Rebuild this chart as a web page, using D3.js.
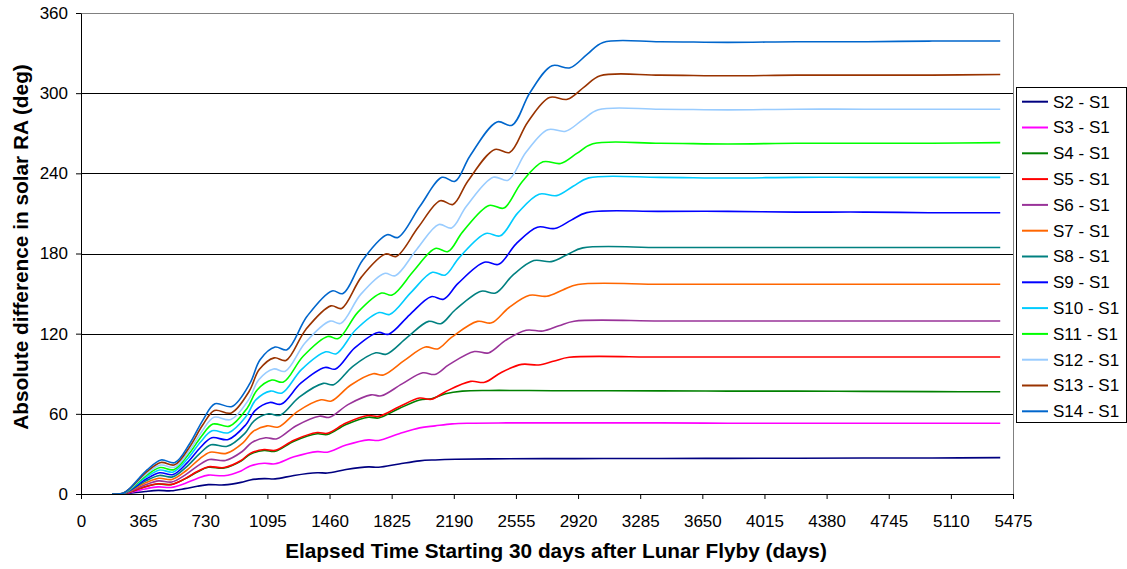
<!DOCTYPE html>
<html>
<head>
<meta charset="utf-8">
<script src="https://cdn.jsdelivr.net/npm/d3@7"></script>
<style>
  body { margin: 0; background: #fff; }
  text { font-family: Arial, "Liberation Sans", sans-serif; }
</style>
</head>
<body>
<script>
// tick labels
var xTicks = [0, 365, 730, 1095, 1460, 1825, 2190, 2555, 2920, 3285, 3650, 4015, 4380, 4745, 5110, 5475];
var yTicks = [0, 60, 120, 180, 240, 300, 360];

// series names (legend order)
var names = ["S2 - S1", "S3 - S1", "S4 - S1", "S5 - S1", "S6 - S1", "S7 - S1", "S8 - S1",
             "S9 - S1", "S10 - S1", "S11 - S1", "S12 - S1", "S13 - S1", "S14 - S1"];
var colors = ["#000080", "#ff00ff", "#008000", "#ff0000", "#993399", "#ff6600", "#008080",
              "#0000ff", "#00ccff", "#00ff00", "#99ccff", "#993300", "#0066cc"];

// elapsed days / values, one pair of arrays per series
var d2 = [182,246,284,377,453,529,611,683,748,841,940,994,1076,1141,1251,1388,1447,1557,1688,1748,1869,1989,2080,2200,2400,2900,3400,3800,4200,4600,5000,5400];
var v2 = [0,0.05,0.5,1.9,2.7,2.4,4,5.8,7,6.8,8.7,10.5,11.5,11.3,13.9,15.9,15.7,18.3,20.3,20,22.5,24.8,25.5,26,26.3,26.5,26.6,26.7,26.8,26.9,27,27.2];

var d3_ = [182,246,284,377,453,529,611,683,748,841,940,994,1076,1141,1251,1388,1447,1557,1688,1748,1869,1989,2080,2180,2280,2500,2900,3400,3800,4200,4600,5000,5400];
var v3 = [0,0.1,1,3.8,5.3,4.9,7.9,11.6,14.1,13.7,17.3,21,23,22.6,27.8,31.7,31.3,36.6,40.5,40.1,45.1,49.5,51,52.5,53,53.2,53.2,53.2,53,53,53,53,53];

var d4 = [182,246,284,377,453,529,611,683,748,841,940,994,1076,1141,1251,1388,1447,1557,1688,1748,1869,1989,2059,2141,2240,2400,2800,3400,3800,4200,4600,5000,5400];
var v4 = [0,0.15,1.4,5.4,7.5,7,11.3,16.5,20,19.4,24.6,29.8,32.6,32,39.5,45.1,44.5,52,57.5,56.9,64,70.4,71.3,75,77,77.5,77.3,77.2,77,77,76.8,76.6,76.5];

var d5 = [182,246,284,377,453,529,611,683,748,841,940,994,1076,1141,1251,1388,1447,1557,1688,1748,1869,1989,2059,2141,2289,2371,2469,2589,2688,2781,2868,3400,3800,4200,4600,5000,5400];
var v5 = [0,0.15,1.4,5.5,7.7,7.1,11.5,16.8,20.4,19.8,25.1,30.4,33.3,32.7,40.3,46,45.4,53.1,58.7,58.1,65.3,71.8,70.9,76.6,84.3,83.6,91,97,96.6,99.6,102.3,102.5,102.5,102.5,102.5,102.5,102.5];

var d6 = [182,246,285,379,456,533,615,688,754,848,947,1003,1085,1151,1262,1400,1460,1571,1704,1764,1886,2008,2079,2162,2311,2394,2494,2615,2714,2808,2897,3400,3800,4200,4600,5000,5400];
var v6 = [0,0.2,1.7,6.9,9.8,9,14.5,21.2,25.8,25.1,31.8,38.5,42.1,41.3,50.9,58.2,57.4,67.1,74.2,73.5,82.4,90.7,89.5,96.8,106.6,105.6,115,122.6,122,125.9,129.3,129.5,129.5,129.5,129.5,129.5,129.5];

var d7 = [182,246,285,380,457,535,619,692,758,853,953,1009,1093,1159,1271,1410,1471,1583,1716,1777,1900,2023,2095,2178,2329,2412,2513,2635,2736,2830,2919,3400,3800,4200,4600,5000,5400];
var v7 = [0,0.2,2.1,8.4,11.8,10.9,17.6,25.8,31.3,30.4,38.5,46.6,51,50.1,61.7,70.5,69.6,81.4,90,89.1,100,110,108.6,117.4,129.2,128.1,139.4,148.7,148,152.7,156.8,157,157,157,157,157,157];

var d8 = [182,246,286,381,460,538,623,697,764,859,961,1017,1102,1169,1282,1423,1484,1597,1732,1793,1918,2042,2114,2199,2351,2435,2537,2660,2762,2858,2948,3400,3800,4200,4600,5000,5400];
var v8 = [0,0.3,2.5,9.8,13.9,12.8,20.7,30.2,36.8,35.7,45.2,54.8,60,58.9,72.5,82.8,81.8,95.6,105.7,104.6,117.4,129.2,127.5,137.9,151.8,150.4,163.8,174.7,173.9,179.3,184.2,184.5,184.5,184.5,184.5,184.5,184.5];

var d9 = [182,246,286,383,462,541,626,700,768,865,967,1024,1109,1177,1291,1433,1495,1608,1745,1807,1932,2057,2130,2215,2369,2454,2556,2681,2783,2880,2971,3400,3800,4200,4600,5000,5400];
var v9 = [0,0.3,2.8,11.2,15.9,14.6,23.7,34.6,42.1,40.8,51.7,62.6,68.5,67.3,82.9,94.7,93.5,109.3,120.9,119.6,134.3,147.7,145.8,157.6,173.5,171.9,187.2,199.7,198.7,205,210.6,211.5,211.5,211,211,210.5,210.5];

var d10 = [182,246,286,383,463,542,628,702,770,867,970,1027,1113,1181,1295,1438,1500,1614,1751,1813,1939,2064,2138,2223,2378,2463,2566,2691,2794,2891,2982,3400,3800,4200,4600,5000,5400];
var v10 = [0,0.35,3.2,12.6,17.9,16.5,26.6,38.9,47.3,45.9,58.1,70.4,77,75.6,93.1,106.4,105,122.9,135.8,134.4,150.9,165.9,163.8,177.1,195,193.2,210.4,224.4,223.3,230.3,236.6,237,236.5,237,237,237,237];

var d11 = [182,247,287,385,465,545,631,707,775,873,977,1035,1121,1189,1305,1449,1511,1627,1765,1828,1955,2081,2156,2242,2397,2484,2587,2714,2817,2915,3007,3400,3800,4200,4600,5000,5400];
var v11 = [0,0.4,3.5,14,19.8,18.2,29.5,43,52.3,50.8,64.4,77.9,85.3,83.8,103.1,117.9,116.3,136.1,150.4,148.9,167.1,183.8,181.5,196.2,216,214,233,248.6,247.4,255.1,262.1,262.5,262,262.5,262.5,262.5,263];

var d12 = [182,247,287,386,468,549,636,712,781,880,985,1044,1131,1200,1317,1463,1526,1643,1782,1846,1974,2102,2177,2264,2422,2509,2614,2742,2847,2946,3039,3400,3800,4200,4600,5000,5400];
var v12 = [0,0.4,3.8,15.3,21.7,20,32.3,47.2,57.4,55.7,70.6,85.5,93.6,91.9,113.2,129.4,127.7,149.4,165.1,163.4,183.4,201.7,199.1,215.3,237,234.9,255.7,272.7,271.5,280,287.6,288,287.5,288,288,288,288];

var d13 = [182,247,288,387,469,550,638,714,784,883,988,1047,1135,1204,1321,1468,1531,1648,1789,1852,1981,2110,2185,2273,2431,2518,2624,2752,2857,2957,3050,3400,3800,4200,4600,5000,5400];
var v13 = [0,0.5,4.2,16.7,23.6,21.8,35.2,51.4,62.5,60.7,76.9,93.1,101.9,100,123.2,140.8,138.9,162.5,179.6,177.8,199.6,219.5,216.7,234.3,257.9,255.6,278.3,296.8,295.4,304.7,313,313.5,313,313.5,313.5,313.5,314];

var d14 = [182,247,288,388,470,552,640,717,787,887,993,1052,1140,1210,1328,1475,1539,1657,1798,1862,1992,2121,2197,2285,2444,2532,2638,2767,2873,2973,3067,3400,3800,4200,4600,5000,5400];
var v14 = [0,0.5,4.5,18,25.5,23.5,38,55.5,67.5,65.5,83,100.5,110,108,133,152,150,175.5,194,192,215.5,237,234,253,278.5,276,300.5,320.5,319,329,338,338.5,338,338.5,338.5,339,339];

var allDays = [d2, d3_, d4, d5, d6, d7, d8, d9, d10, d11, d12, d13, d14];
var allVals = [v2, v3, v4, v5, v6, v7, v8, v9, v10, v11, v12, v13, v14];

var series = names.map(function(n, i) {
  return { name: n, color: colors[i], points: d3.zip(allDays[i], allVals[i]) };
});

/*
 * layout
 */
var width = 1127, height = 569;
var plot = { left: 81, right: 1013, top: 13, bottom: 494 };

var x = d3.scaleLinear().domain([0, 5475]).range([plot.left, plot.right]);
var y = d3.scaleLinear().domain([0, 360]).range([plot.bottom, plot.top]);

var svg = d3.select('body').append('svg')
  .attr('width', width)
  .attr('height', height);

svg.append('rect')
  .attr('width', width)
  .attr('height', height)
  .style('fill', '#fff');

// horizontal gridlines
svg.append('g').selectAll('line')
  .data(yTicks.filter(function(v) { return v > 0 && v < 360; }))
  .enter().append('line')
  .attr('x1', plot.left).attr('x2', plot.right)
  .attr('y1', function(d) { return Math.round(y(d)) + 0.5; })
  .attr('y2', function(d) { return Math.round(y(d)) + 0.5; })
  .style('stroke', '#000')
  .style('stroke-width', 1);

// plot area border (top + right)
svg.append('path')
  .attr('d', 'M' + plot.left + ',' + (plot.top + 0.5) + 'H' + (plot.right + 0.5) + 'V' + plot.bottom)
  .style('fill', 'none')
  .style('stroke', '#808080')
  .style('stroke-width', 1);

// series
var line = d3.line()
  .x(function(d) { return x(d[0]); })
  .y(function(d) { return y(d[1]); })
  .curve(d3.curveCatmullRom.alpha(0.5));

svg.append('g').selectAll('path')
  .data(series)
  .enter().append('path')
  .attr('d', function(d) { return line(d.points); })
  .style('fill', 'none')
  .style('stroke', function(d) { return d.color; })
  .style('stroke-width', 1.6);

// axes
var yAxis = svg.append('g')
  .attr('transform', 'translate(' + plot.left + ',0)')
  .call(d3.axisLeft(y).tickValues(yTicks).tickSize(5).tickSizeOuter(0).tickPadding(8));

var xAxis = svg.append('g')
  .attr('transform', 'translate(0,' + plot.bottom + ')')
  .call(d3.axisBottom(x).tickValues(xTicks).tickFormat(d3.format('d'))
    .tickSize(5).tickSizeOuter(0).tickPadding(16));

[xAxis, yAxis].forEach(function(g) {
  g.selectAll('text').style('font-size', '17px').style('fill', '#000')
    .style('font-family', 'Arial, "Liberation Sans", sans-serif');
  g.selectAll('line, path').style('stroke', '#000');
});

// axis titles
svg.append('text')
  .text('Elapsed Time Starting 30 days after Lunar Flyby (days)')
  .attr('x', 556).attr('y', 558)
  .style('text-anchor', 'middle')
  .style('font-weight', 'bold')
  .style('font-size', '20.8px');

svg.append('text')
  .text('Absolute difference in solar RA (deg)')
  .attr('transform', 'translate(28,247) rotate(-90)')
  .style('text-anchor', 'middle')
  .style('font-weight', 'bold')
  .style('font-size', '20.8px');

// legend
var legend = svg.append('g').attr('transform', 'translate(1016,87)');

legend.append('rect')
  .attr('x', 0.5).attr('y', 0.5)
  .attr('width', 110).attr('height', 335)
  .style('fill', '#fff')
  .style('stroke', '#000')
  .style('stroke-width', 1);

var item = legend.selectAll('.item')
  .data(series)
  .enter().append('g')
  .attr('class', 'item')
  .attr('transform', function(d, i) { return 'translate(0,' + (14.7 + i * 25.8) + ')'; });

item.append('line')
  .attr('x1', 6).attr('x2', 32)
  .style('stroke', function(d) { return d.color; })
  .style('stroke-width', 2);

item.append('text')
  .text(function(d) { return d.name; })
  .attr('x', 37).attr('dy', '0.35em')
  .style('font-size', '17px');
</script>
</body>
</html>
